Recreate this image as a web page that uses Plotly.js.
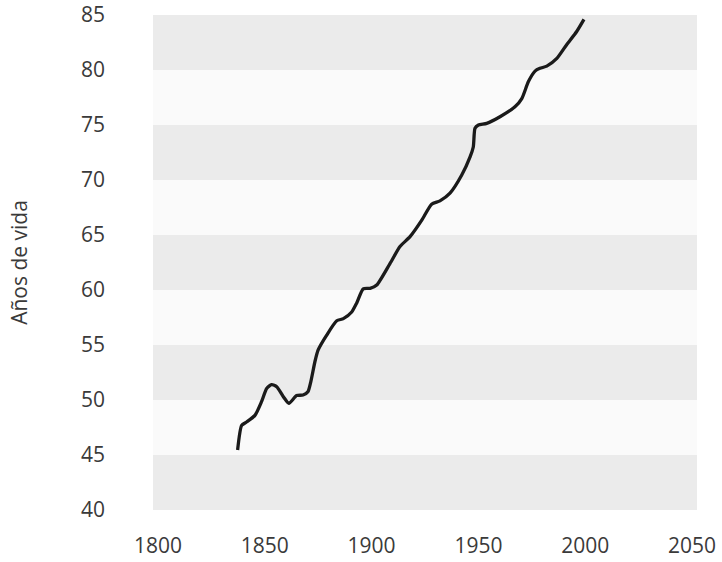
<!DOCTYPE html>
<html>
<head>
<meta charset="utf-8">
<script src="https://cdn.plot.ly/plotly-3.0.1.min.js"></script>
<style>html,body{margin:0;padding:0;background:#fff;}#chart{width:722px;height:562px;}</style>
</head>
<body>
<div id="chart"></div>
<script>
// Data
const years = [1837.3, 1839.2, 1841.5, 1845.4, 1848.5, 1850.9, 1853.2, 1855.6, 1858.7, 1861.3,
  1864.9, 1867.9, 1870.2, 1871.6, 1873.5, 1875.0, 1879.0, 1883.7, 1886.8, 1890.7,
  1893.0, 1896.1, 1899.3, 1902.4, 1908.6, 1913.3, 1918.0, 1923.5, 1928.1, 1932.0,
  1936.7, 1942.2, 1946.1, 1947.6, 1948.4, 1950.0, 1953.9, 1960.1, 1967.1, 1970.3,
  1973.4, 1976.5, 1978.8, 1982.0, 1986.7, 1991.3, 1996.0, 1999.4];
const lifeExpectancy = [45.45, 47.7, 48.0, 48.6, 49.85, 51.05, 51.4, 51.2, 50.3, 49.7,
  50.4, 50.45, 50.75, 51.7, 53.5, 54.55, 55.9, 57.2, 57.4, 58.0,
  58.8, 60.1, 60.15, 60.45, 62.4, 63.95, 64.85, 66.35, 67.8, 68.1,
  68.8, 70.45, 72.1, 73.0, 74.7, 75.0, 75.15, 75.75, 76.65, 77.4,
  78.95, 79.9, 80.15, 80.35, 81.05, 82.3, 83.5, 84.6];
const xTicks = [1800, 1850, 1900, 1950, 2000, 2050];
const yTicks = [40, 45, 50, 55, 60, 65, 70, 75, 80, 85];
const bandStarts = [40, 50, 60, 70, 80];
const bandWidth = 5;
const yTitle = 'Años de vida';

const shapes = bandStarts.map(b => ({
  type: 'rect', xref: 'paper', yref: 'y', x0: 0, x1: 1, y0: b, y1: b + bandWidth,
  fillcolor: '#ebebeb', line: {width: 0}, layer: 'below'
}));

const trace = {
  x: years, y: lifeExpectancy, type: 'scatter', mode: 'lines',
  line: {color: '#1a1a1a', width: 3.3, shape: 'spline', smoothing: 0.6},
  hoverinfo: 'x+y'
};

const font = {family: 'Open Sans, sans-serif', size: 21, color: '#3a3a3a'};

const layout = {
  width: 722, height: 562,
  margin: {l: 153, r: 25, t: 15, b: 52},
  paper_bgcolor: '#ffffff',
  plot_bgcolor: '#fafafa',
  showlegend: false,
  shapes: shapes,
  font: font,
  xaxis: {
    range: [1797.7, 2052.3], tickvals: xTicks, ticktext: xTicks.map(String),
    showgrid: false, zeroline: false, showline: false, ticks: '',
    ticklabelstandoff: 21, tickfont: font, fixedrange: true, ticklabeloverflow: 'allow'
  },
  yaxis: {
    range: [40, 85], tickvals: yTicks, ticktext: yTicks.map(String),
    showgrid: false, zeroline: false, showline: false, ticks: '',
    ticklabelstandoff: 47, tickfont: font, fixedrange: true, ticklabeloverflow: 'allow',
    title: {text: yTitle, font: {family: 'Open Sans, sans-serif', size: 21, color: '#3a3a3a'}, standoff: 47}
  }
};

Plotly.newPlot('chart', [trace], layout, {displayModeBar: false, staticPlot: true});
</script>
</body>
</html>
